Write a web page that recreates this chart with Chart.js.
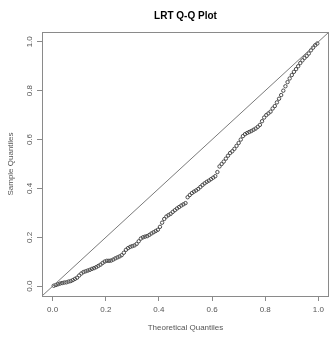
<!DOCTYPE html>
<html>
<head>
<meta charset="utf-8">
<script src="https://cdn.jsdelivr.net/npm/chart.js@4"></script>
<style>
  html, body { margin: 0; padding: 0; background: #fff; }
  #wrap { width: 334px; height: 339px; position: relative; }
</style>
</head>
<body>
<div id="wrap"><canvas id="qq"></canvas></div>
<script>
// Q-Q plot data
const theoretical = [
  0.004, 0.012, 0.020, 0.028, 0.036, 0.044, 0.052, 0.060, 0.068, 0.076,
  0.084, 0.092, 0.100, 0.108, 0.116, 0.124, 0.132, 0.140, 0.148, 0.156,
  0.164, 0.172, 0.180, 0.188, 0.196, 0.204, 0.212, 0.220, 0.228, 0.236,
  0.244, 0.252, 0.260, 0.268, 0.276, 0.284, 0.292, 0.300, 0.308, 0.316,
  0.324, 0.332, 0.340, 0.348, 0.356, 0.364, 0.372, 0.380, 0.388, 0.396,
  0.404, 0.412, 0.420, 0.428, 0.436, 0.444, 0.452, 0.460, 0.468, 0.476,
  0.484, 0.492, 0.500, 0.508, 0.516, 0.524, 0.532, 0.540, 0.548, 0.556,
  0.564, 0.572, 0.580, 0.588, 0.596, 0.604, 0.612, 0.620, 0.628, 0.636,
  0.644, 0.652, 0.660, 0.668, 0.676, 0.684, 0.692, 0.700, 0.708, 0.716,
  0.724, 0.732, 0.740, 0.748, 0.756, 0.764, 0.772, 0.780, 0.788, 0.796,
  0.804, 0.812, 0.820, 0.828, 0.836, 0.844, 0.852, 0.860, 0.868, 0.876,
  0.884, 0.892, 0.900, 0.908, 0.916, 0.924, 0.932, 0.940, 0.948, 0.956,
  0.964, 0.972, 0.980, 0.988, 0.996
];
const sample = [
  0.002, 0.005, 0.008, 0.011, 0.013, 0.015, 0.016, 0.019, 0.021, 0.025,
  0.030, 0.035, 0.044, 0.052, 0.058, 0.061, 0.064, 0.067, 0.071, 0.074,
  0.078, 0.083, 0.088, 0.095, 0.101, 0.104, 0.104, 0.105, 0.109, 0.114,
  0.118, 0.122, 0.127, 0.137, 0.149, 0.156, 0.161, 0.164, 0.167, 0.173,
  0.184, 0.195, 0.200, 0.203, 0.205, 0.210, 0.216, 0.221, 0.226, 0.231,
  0.243, 0.260, 0.275, 0.285, 0.291, 0.296, 0.304, 0.311, 0.318, 0.324,
  0.330, 0.335, 0.340, 0.364, 0.373, 0.381, 0.387, 0.392, 0.398, 0.406,
  0.414, 0.421, 0.427, 0.432, 0.438, 0.444, 0.450, 0.467, 0.490, 0.500,
  0.510, 0.522, 0.534, 0.545, 0.552, 0.562, 0.574, 0.586, 0.600, 0.614,
  0.622, 0.627, 0.631, 0.635, 0.640, 0.645, 0.652, 0.660, 0.675, 0.690,
  0.700, 0.707, 0.714, 0.727, 0.737, 0.752, 0.767, 0.782, 0.800, 0.818,
  0.835, 0.850, 0.864, 0.877, 0.888, 0.900, 0.913, 0.924, 0.934, 0.942,
  0.952, 0.965, 0.976, 0.986, 0.993
];
const refLine = [-0.04, 1.04];      // y = x reference line ends
const xTicks = [0.0, 0.2, 0.4, 0.6, 0.8, 1.0];
const yTicks = [0.0, 0.2, 0.4, 0.6, 0.8, 1.0];

const FONT = "'Liberation Sans', Arial, sans-serif";
const TEXT = "#555555";
const AXIS = "#8a8a8a";

// draws title, y tick labels, axis titles and the box like R does
const rStyle = {
  id: "rStyle",
  afterDraw(chart) {
    const ctx = chart.ctx;
    const a = chart.chartArea;
    const ys = chart.scales.y;
    ctx.save();
    ctx.strokeStyle = AXIS;
    ctx.lineWidth = 1;
    ctx.strokeRect(a.left + 0.5, a.top + 0.5, a.right - a.left - 1, a.bottom - a.top);

    ctx.fillStyle = "#000";
    ctx.font = "bold 10px " + FONT;
    ctx.textAlign = "center";
    ctx.textBaseline = "middle";
    ctx.fillText("LRT Q-Q Plot", (a.left + a.right) / 2, 16);

    ctx.fillStyle = TEXT;
    ctx.font = "8px " + FONT;
    yTicks.forEach(v => {
      ctx.save();
      ctx.translate(30, ys.getPixelForValue(v));
      ctx.rotate(-Math.PI / 2);
      ctx.fillText(v.toFixed(1), 0, 0);
      ctx.restore();
    });
    ctx.save();
    ctx.translate(11, (a.top + a.bottom) / 2);
    ctx.rotate(-Math.PI / 2);
    ctx.fillText("Sample Quantiles", 0, 0);
    ctx.restore();
    ctx.fillText("Theoretical Quantiles", (a.left + a.right) / 2, 328);
    ctx.restore();
  }
};

new Chart(document.getElementById("qq"), {
  type: "scatter",
  data: {
    datasets: [
      {
        type: "line",
        data: refLine.map(v => ({ x: v, y: v })),
        borderColor: "#7a7a7a",
        borderWidth: 1,
        pointRadius: 0,
        fill: false
      },
      {
        data: theoretical.map((x, i) => ({ x: x, y: sample[i] })),
        pointStyle: "circle",
        pointRadius: 1.7,
        borderColor: "#4a4a4a",
        borderWidth: 1,
        backgroundColor: "rgba(0,0,0,0)"
      }
    ]
  },
  options: {
    responsive: true,
    maintainAspectRatio: false,
    animation: false,
    layout: { padding: { top: 32, left: 0, right: 0, bottom: 0 } },
    plugins: { legend: { display: false }, tooltip: { enabled: false }, title: { display: false } },
    scales: {
      x: {
        type: "linear",
        min: -0.04, max: 1.04,
        afterBuildTicks: s => { s.ticks = xTicks.map(v => ({ value: v })); },
        afterFit: s => { s.height = 43; },
        grid: { drawOnChartArea: false, drawTicks: true, tickLength: 5, color: AXIS },
        border: { display: false },
        ticks: {
          color: TEXT, font: { family: FONT, size: 8 }, padding: 4,
          maxRotation: 0, autoSkip: false,
          callback: v => Number(v).toFixed(1)
        }
      },
      y: {
        type: "linear",
        min: -0.04, max: 1.04,
        afterBuildTicks: s => { s.ticks = yTicks.map(v => ({ value: v })); },
        afterFit: s => { s.width = 42; },
        grid: { drawOnChartArea: false, drawTicks: true, tickLength: 5, color: AXIS },
        border: { display: false },
        ticks: { display: false }
      }
    }
  },
  plugins: [rStyle]
});
</script>
</body>
</html>
